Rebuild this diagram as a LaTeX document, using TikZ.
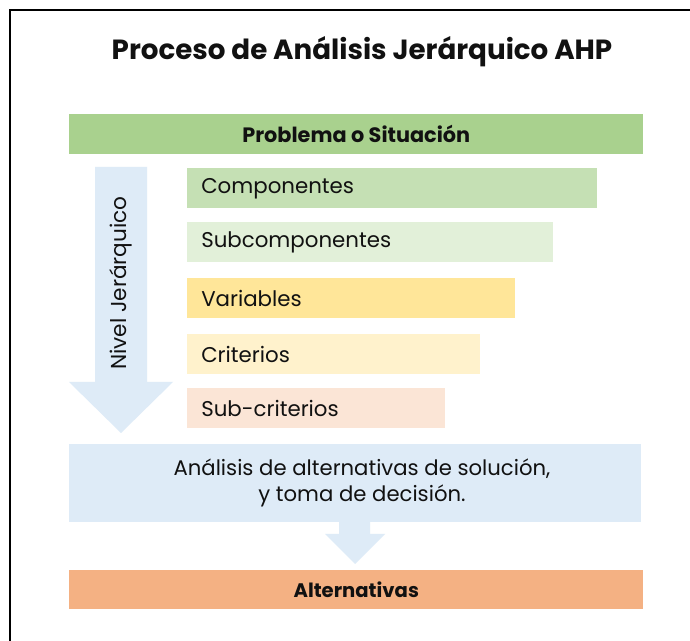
\documentclass[tikz,border=0pt]{standalone}
\usepackage{fontspec}
\setmainfont{Poppins}
\definecolor{gA}{HTML}{A9D18E}
\definecolor{gB}{HTML}{C5E0B4}
\definecolor{gC}{HTML}{E2F0D9}
\definecolor{yA}{HTML}{FFE699}
\definecolor{yB}{HTML}{FFF2CC}
\definecolor{oA}{HTML}{FBE5D6}
\definecolor{bA}{HTML}{DEEBF7}
\definecolor{oB}{HTML}{F4B183}
\definecolor{txt}{HTML}{111111}
\tikzset{
  bar/.style={draw=none, inner sep=0pt, anchor=north west},
  lbl/.style={anchor=west, inner sep=0pt, text=txt, font=\fontsize{16}{18}\selectfont},
  ctr/.style={inner sep=0pt, text=txt},
  blockarrow/.style={fill=bA, draw=none},
}
\begin{document}
\begin{tikzpicture}[x=0.75pt,y=-0.75pt]
\useasboundingbox (0,0) rectangle (690,641);
\fill[white] (0,0) rectangle (690,641);
\draw[line width=1.5pt] (10,641) -- (10,10) -- (690,10);

\node[ctr, font=\bfseries\fontsize{20.8}{24}\selectfont] (title) at (362,52) {Proceso de Análisis Jerárquico AHP};

\node[bar, fill=gA, minimum width={574*0.75pt}, minimum height={40*0.75pt}] (prob) at (69,114) {};
\node[ctr, font=\bfseries\fontsize{15.6}{18}\selectfont] (probt) at (prob.center) {Problema o Situación};

% big arrow
\coordinate (ba1) at (95,167);
\coordinate (ba2) at (147,167);
\coordinate (ba3) at (147,382);
\coordinate (ba4) at (173,382);
\coordinate (batip) at (121,433);
\coordinate (ba5) at (69,382);
\coordinate (ba6) at (95,382);
\fill[blockarrow] (ba1) -- (ba2) -- (ba3) -- (ba4) -- (batip) -- (ba5) -- (ba6) -- cycle;
\node[ctr, rotate=90, font=\fontsize{16.2}{18}\selectfont] (nivel) at (121,283) {Nivel Jerárquico};

\node[bar, fill=gB, minimum width={410*0.75pt}, minimum height={40*0.75pt}] (comp) at (187,168) {};
\node[lbl] (compt) at ([xshift={14*0.75pt}]comp.west) {Componentes};
\node[bar, fill=gC, minimum width={366*0.75pt}, minimum height={40*0.75pt}] (subc) at (187,222) {};
\node[lbl] (subct) at ([xshift={14*0.75pt}]subc.west) {Subcomponentes};
\node[bar, fill=yA, minimum width={328*0.75pt}, minimum height={40*0.75pt}] (vari) at (187,278) {};
\node[lbl] (varit) at ([xshift={14*0.75pt}]vari.west) {Variables};
\node[bar, fill=yB, minimum width={293*0.75pt}, minimum height={40*0.75pt}] (crit) at (187,334) {};
\node[lbl] (critt) at ([xshift={14*0.75pt}]crit.west) {Criterios};
\node[bar, fill=oA, minimum width={258*0.75pt}, minimum height={40*0.75pt}] (subk) at (187,388) {};
\node[lbl] (subkt) at ([xshift={14*0.75pt}]subk.west) {Sub-criterios};

% small arrow
\coordinate (sa1) at (339,520);
\coordinate (sa2) at (370,520);
\coordinate (sa3) at (370,534);
\coordinate (sa4) at (385,534);
\coordinate (satip) at (355,564);
\coordinate (sa5) at (325,534);
\coordinate (sa6) at (339,534);
\fill[blockarrow] (sa1) -- (sa2) -- (sa3) -- (sa4) -- (satip) -- (sa5) -- (sa6) -- cycle;

\node[bar, fill=bA, minimum width={572*0.75pt}, minimum height={78*0.75pt}] (anal) at (69,444) {};
\node[ctr, align=center, font=\fontsize{15.9}{20}\selectfont] (analt) at (362,483) {Análisis de alternativas de solución,\\y toma de decisión.};

\node[bar, fill=oB, minimum width={574*0.75pt}, minimum height={39*0.75pt}] (alt) at (69,570) {};
\node[ctr, font=\bfseries\fontsize{14.7}{17}\selectfont] (altt) at (alt.center) {Alternativas};
\end{tikzpicture}
\end{document}
